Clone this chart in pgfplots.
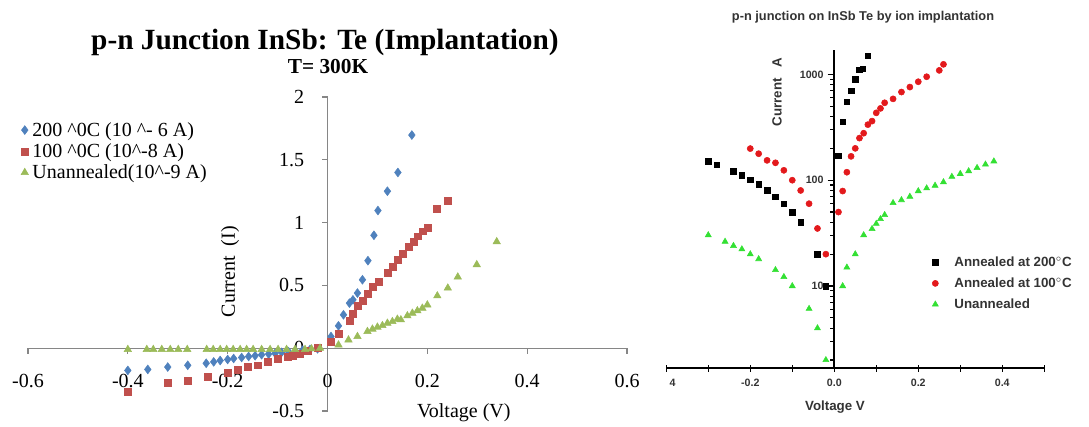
\documentclass[border=0pt]{standalone}
\usepackage{fontspec}
\setmainfont{Liberation Serif}
\newfontfamily\arial{Liberation Sans}
\usepackage{pgfplots}
\pgfplotsset{compat=1.18}

\definecolor{xlblue}{HTML}{4F81BD}
\definecolor{xlred}{HTML}{C0504D}
\definecolor{xlgreen}{HTML}{9BBB59}
\definecolor{axgray}{HTML}{868686}
\definecolor{orred}{HTML}{E3191C}
\definecolor{orgreen}{HTML}{33E033}

% 1 px of the reference = 0.75pt
\begin{document}
\begin{tikzpicture}
\path[use as bounding box] (0,0) rectangle (816.75pt,319.5pt);

% ---------- left: linear I-V ----------
\begin{axis}[
  at={(21pt,11.25pt)}, anchor=south west,
  scale only axis, width=449.25pt, height=235.5pt,
  xmin=-0.6, xmax=0.6, ymin=-0.5, ymax=2,
  axis lines=middle,
  axis line style={-, draw=axgray, line width=0.8pt},
  hide obscured x ticks=false, hide obscured y ticks=false,
  tick align=outside, major tick length=4pt,
  tick style={draw=axgray, line width=0.8pt},
  xtick={-0.6,-0.4,-0.2,0,0.2,0.4,0.6},
  xticklabels={-0.6,-0.4,-0.2,0,0.2,0.4,0.6},
  ytick={-0.5,0,0.5,1,1.5,2},
  yticklabels={-0.5,0,0.5,1,1.5,2},
  ticklabel style={font=\fontsize{15}{18}\selectfont},
  xticklabel style={anchor=north, yshift=-12pt},
  yticklabel style={anchor=east, xshift=-10pt},
  clip=false,
  legend cell align=left,
  legend image code/.code={\draw[#1] plot coordinates {(0pt,0pt)};},
  legend style={at={(-0.012,0.925)}, anchor=north west, draw=none, fill=none,
    font=\fontsize{15}{18}\selectfont, inner sep=0pt, row sep=2pt,
    nodes={inner xsep=3pt, inner ysep=1pt}},
]
\addplot[only marks, mark=diamond*, mark size=3.3pt, color=xlblue] coordinates {
(-0.40,-0.177) (-0.36,-0.169) (-0.32,-0.150) (-0.28,-0.136) (-0.243,-0.120)
(-0.228,-0.109) (-0.215,-0.098) (-0.200,-0.090) (-0.188,-0.082) (-0.172,-0.074)
(-0.158,-0.066) (-0.145,-0.060) (-0.132,-0.052) (-0.118,-0.047) (-0.105,-0.041)
(-0.092,-0.033) (-0.078,-0.028) (-0.064,-0.022) (-0.050,-0.016) (-0.035,-0.010)
(-0.020,-0.005) (0.007,0.093) (0.022,0.178) (0.032,0.266) (0.044,0.359)
(0.051,0.385) (0.060,0.439) (0.070,0.545) (0.081,0.697) (0.093,0.899)
(0.101,1.096) (0.120,1.250) (0.141,1.399) (0.169,1.697)
};
\addlegendentry{200 \textasciicircum{}0C (10 \textasciicircum{}- 6 A)}
\addplot[only marks, mark=square*, mark size=2.6pt, color=xlred] coordinates {
(-0.40,-0.345) (-0.32,-0.277) (-0.28,-0.258) (-0.24,-0.231) (-0.20,-0.196)
(-0.18,-0.169) (-0.16,-0.150) (-0.14,-0.136) (-0.12,-0.109) (-0.10,-0.082)
(-0.08,-0.068) (-0.07,-0.060) (-0.055,-0.046) (-0.04,-0.019) (-0.02,0.000)
(0.007,0.053) (0.022,0.112) (0.045,0.220) (0.051,0.271) (0.061,0.338)
(0.071,0.378) (0.081,0.433) (0.091,0.487) (0.102,0.532) (0.121,0.598)
(0.131,0.651) (0.141,0.705) (0.150,0.753) (0.162,0.811) (0.172,0.851)
(0.180,0.891) (0.190,0.931) (0.201,0.958) (0.219,1.109) (0.241,1.176)
};
\addlegendentry{100 \textasciicircum{}0C (10\textasciicircum{}-8 A)}
\addplot[only marks, mark=triangle*, mark size=3.2pt, color=xlgreen] coordinates {
(-0.40,-0.01) (-0.362,-0.01) (-0.349,-0.01) (-0.332,-0.01) (-0.315,-0.01)
(-0.299,-0.01) (-0.281,-0.01) (-0.242,-0.01) (-0.229,-0.01) (-0.215,-0.01)
(-0.202,-0.01) (-0.189,-0.01) (-0.175,-0.01) (-0.162,-0.01) (-0.149,-0.01)
(-0.132,-0.01) (-0.115,-0.01) (-0.099,-0.01) (-0.082,-0.01) (-0.065,-0.01)
(-0.045,-0.01) (-0.032,-0.005) (-0.015,0.000)
(0.022,0.026) (0.042,0.066) (0.060,0.093) (0.080,0.133) (0.090,0.152)
(0.100,0.168) (0.110,0.180) (0.120,0.199) (0.130,0.212) (0.140,0.231)
(0.147,0.226) (0.160,0.258) (0.170,0.279) (0.180,0.298) (0.190,0.319)
(0.200,0.345) (0.220,0.417) (0.241,0.479) (0.261,0.567) (0.299,0.665)
(0.339,0.848)
};
\addlegendentry{Unannealed(10\textasciicircum{}-9 A)}
\node[rotate=90, font=\fontsize{15}{18}\selectfont] at (axis cs:-0.195,0.61) {Current\ \ (I)};
\node[font=\fontsize{15}{18}\selectfont] at (axis cs:0.273,-0.516) {Voltage (V)};
\end{axis}

\node[font=\fontsize{22}{26}\selectfont\bfseries] at (243.75pt,288pt) {p-n Junction InSb: Te (Implantation)};
\node[font=\fontsize{16}{19}\selectfont\bfseries] at (246pt,269.25pt) {T= 300K};

% ---------- right: semilog I-V ----------
\begin{axis}[
  at={(499.7pt,43.3pt)}, anchor=south west,
  scale only axis, width=283.5pt, height=238.7pt,
  xmin=-0.4, xmax=0.5, ymode=log, ymin=1.67, ymax=1700,
  axis x line=bottom, axis y line=center,
  axis line style={-, line width=1.2pt},
  tick style={line width=0.9pt, black},
  tick align=center, major tick length=5pt, minor tick length=3pt,
  every major y tick/.append style={xshift=-2.5pt},
  every minor y tick/.append style={xshift=-1.5pt},
  xtick={-0.4,-0.3,-0.2,-0.1,0,0.1,0.2,0.3,0.4,0.5},
  xticklabels={\phantom{-0.}4,,-0.2,,0.0,,0.2,,0.4,},
  ytick={10,100,1000}, yticklabels={10,100,1000},
  minor ytick={2,3,4,5,6,7,8,9,20,30,40,50,60,70,80,90,200,300,400,500,600,700,800,900},
  ticklabel style={font=\arial\bfseries\fontsize{8}{9}\selectfont, text=black!80},
  xticklabel style={yshift=-2pt},
  yticklabel style={xshift=-2pt},
  clip=false,
  legend cell align=left,
  legend image code/.code={\draw[#1] plot coordinates {(0pt,0pt)};},
  legend style={at={(0.703,0.356)}, anchor=north west, draw=none, fill=none,
    font=\arial\bfseries\fontsize{10}{11.5}\selectfont, text=black!80,
    inner sep=0pt, row sep=5pt,
    /tikz/every odd column/.style={column sep=8pt},
    nodes={inner xsep=4pt, inner ysep=1pt}},
]
\addplot[only marks, mark=square*, mark size=2.1pt, color=black] coordinates {
(-0.30,151) (-0.28,140) (-0.24,121) (-0.22,111) (-0.20,101) (-0.18,91)
(-0.16,80) (-0.14,70) (-0.12,60) (-0.10,50) (-0.08,40) (-0.04,20) (-0.02,10)
(0.01,170) (0.02,356) (0.03,551) (0.04,700) (0.05,900) (0.06,1105)
(0.068,1130) (0.08,1500)
};
\addlegendentry{Annealed at 200$^{\circ}$C}
\addplot[only marks, mark=*, mark size=2.3pt, color=orred] coordinates {
(-0.20,199) (-0.18,178) (-0.16,154) (-0.14,146) (-0.12,124) (-0.10,100)
(-0.08,80) (-0.06,60) (-0.04,35) (-0.02,20) (0.01,50) (0.02,79) (0.03,119)
(0.04,168) (0.05,200) (0.06,250) (0.07,278) (0.08,335) (0.09,362) (0.10,433)
(0.11,477) (0.12,539) (0.14,587) (0.16,681) (0.18,759) (0.20,852) (0.22,950)
(0.25,1091) (0.26,1244)
};
\addlegendentry{Annealed at 100$^{\circ}$C}
\addplot[only marks, mark=triangle*, mark size=2.6pt, color=orgreen] coordinates {
(-0.30,30.3) (-0.26,26.3) (-0.24,24) (-0.22,22.3) (-0.20,20) (-0.18,18)
(-0.14,14.2) (-0.12,12.2) (-0.10,10) (-0.06,6.1) (-0.04,4) (-0.02,2)
(0.02,10) (0.03,15) (0.05,20) (0.07,30.3) (0.09,34.7) (0.10,38.8) (0.11,43)
(0.12,47) (0.14,61) (0.16,65) (0.18,70) (0.20,79) (0.22,84) (0.24,89)
(0.26,96) (0.28,108) (0.30,115) (0.32,122) (0.34,131) (0.36,141) (0.38,151)
};
\addlegendentry{Unannealed}
\end{axis}

\node[font=\arial\bfseries\fontsize{9.6}{11}\selectfont, text=black!80] at (647.25pt,306.75pt) {p-n junction on InSb Te by ion implantation};
\node[rotate=90, font=\arial\bfseries\fontsize{10}{12}\selectfont, text=black!80] at (582.75pt,250.5pt) {Current\ \ \ A};
\node[font=\arial\bfseries\fontsize{10}{12}\selectfont, text=black!80] at (626.25pt,14.25pt) {Voltage V};
\end{tikzpicture}
\end{document}
